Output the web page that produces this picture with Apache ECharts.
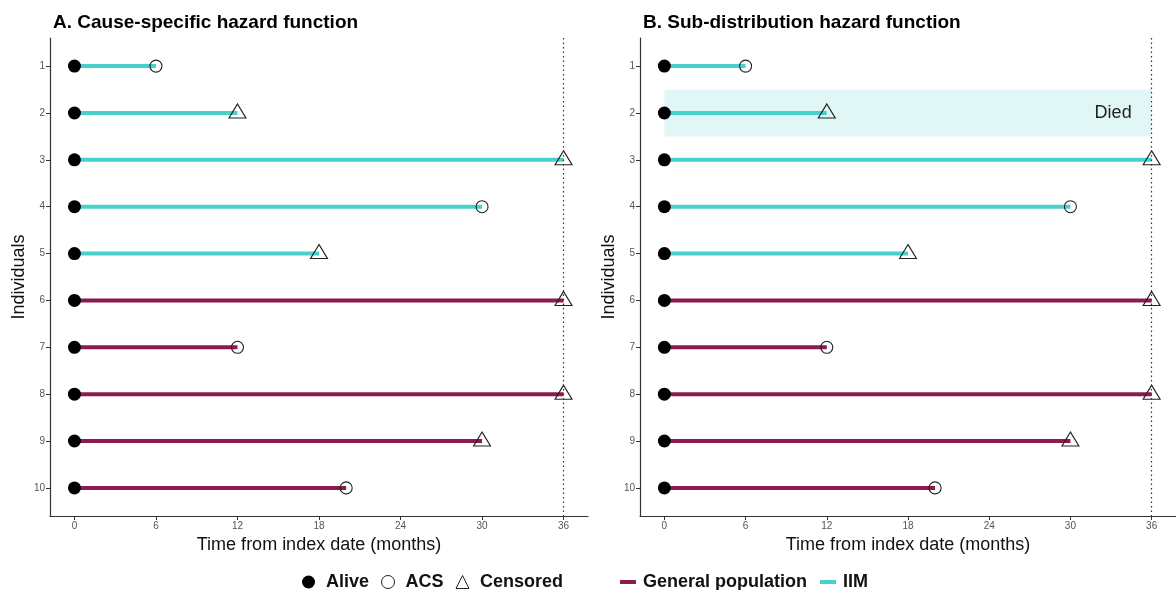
<!DOCTYPE html>
<html>
<head>
<meta charset="utf-8">
<script src="https://cdn.jsdelivr.net/npm/echarts@6/dist/echarts.min.js"></script>
<style>
html,body{margin:0;padding:0;background:#fff;}
#c{width:1176px;height:590px;}
</style>
</head>
<body>
<div id="c"></div>
<script>
// ---- data ----
const individuals = [1, 2, 3, 4, 5, 6, 7, 8, 9, 10];
const endTimes = [6, 12, 36, 30, 18, 36, 12, 36, 30, 20];
const groups = ['IIM', 'IIM', 'IIM', 'IIM', 'IIM', 'General population', 'General population', 'General population', 'General population', 'General population'];
const endStatus = ['ACS', 'Censored', 'Censored', 'ACS', 'Censored', 'Censored', 'ACS', 'Censored', 'Censored', 'ACS'];
const startTime = 0;
const xTicks = [0, 6, 12, 18, 24, 30, 36];
const followUpEnd = 36;
const diedRow = 2;
const diedLabel = 'Died';
const titles = ['A. Cause-specific hazard function', 'B. Sub-distribution hazard function'];
const xName = 'Time from index date (months)';
const yName = 'Individuals';

const COLORS = { 'IIM': '#48D1CC', 'General population': '#8B1A4F' };
const FONT = '"Liberation Sans", Arial, sans-serif';

const chart = echarts.init(document.getElementById('c'), null, { renderer: 'canvas' });

const grids = [
  { left: 50, right: 588, top: 38, height: 478 },
  { left: 640, right: 0, top: 38, height: 478 }
];

function segData(g) {
  const out = [];
  individuals.forEach((id, i) => { if (groups[i] === g) out.push([startTime, endTimes[i], id]); });
  return out;
}
function statusData(s) {
  const out = [];
  individuals.forEach((id, i) => { if (endStatus[i] === s) out.push([endTimes[i], id]); });
  return out;
}

const xAxes = [], yAxes = [], series = [];
grids.forEach((g, k) => {
  xAxes.push({
    gridIndex: k, type: 'value', min: -1.8, max: 37.8,
    name: xName, nameLocation: 'middle', nameGap: 20,
    nameTextStyle: { fontSize: 18, color: '#111', fontFamily: FONT },
    axisLine: { show: true, onZero: false, lineStyle: { color: '#333', width: 1.2 } },
    axisTick: { show: true, length: 4, lineStyle: { color: '#333' }, customValues: xTicks },
    axisLabel: { fontSize: 10, color: '#555', margin: 5, fontFamily: FONT, customValues: xTicks },
    splitLine: { show: false }
  });
  yAxes.push({
    gridIndex: k, type: 'value', min: 0.4, max: 10.6, inverse: true,
    name: yName, nameLocation: 'middle', nameGap: 22,
    nameTextStyle: { fontSize: 18, color: '#111', fontFamily: FONT },
    axisLine: { show: true, onZero: false, lineStyle: { color: '#333', width: 1.2 } },
    axisTick: { show: true, length: 4, lineStyle: { color: '#333' }, customValues: individuals },
    axisLabel: { fontSize: 10, color: '#555', margin: 5, fontFamily: FONT, customValues: individuals },
    splitLine: { show: false }
  });

  ['General population', 'IIM'].forEach((grp, gi) => {
    const s = {
      name: grp, type: 'custom', xAxisIndex: k, yAxisIndex: k,
      itemStyle: { color: COLORS[grp] },
      data: segData(grp),
      encode: { x: [0, 1], y: 2 },
      renderItem: function (params, api) {
        const p0 = api.coord([api.value(0), api.value(2)]);
        const p1 = api.coord([api.value(1), api.value(2)]);
        return { type: 'line', shape: { x1: p0[0], y1: p0[1], x2: p1[0], y2: p1[1] },
          style: { stroke: COLORS[grp], lineWidth: 4, lineCap: 'butt' } };
      },
      z: 2
    };
    if (gi === 0) {
      s.markLine = {
        silent: true, symbol: 'none', label: { show: false },
        lineStyle: { type: [1.5, 3], color: '#333', width: 1.2 },
        data: [{ xAxis: followUpEnd }]
      };
    }
    if (gi === 1 && k === 1) {
      s.markArea = {
        silent: true,
        itemStyle: { color: 'rgba(72,209,204,0.17)' },
        label: { show: true, position: 'insideRight', distance: 20, fontSize: 18, color: '#222', fontFamily: FONT },
        data: [[{ name: diedLabel, xAxis: startTime, yAxis: diedRow - 0.5 }, { xAxis: followUpEnd, yAxis: diedRow + 0.5 }]]
      };
    }
    series.push(s);
  });

  series.push({
    name: 'Alive', type: 'scatter', xAxisIndex: k, yAxisIndex: k,
    symbol: 'circle', symbolSize: 13, itemStyle: { color: '#000', opacity: 1 },
    data: individuals.map(id => [startTime, id]), z: 3
  });
  series.push({
    name: 'ACS', type: 'scatter', xAxisIndex: k, yAxisIndex: k,
    symbol: 'circle', symbolSize: 12,
    itemStyle: { color: 'rgba(0,0,0,0)', borderColor: '#222', borderWidth: 1.1, opacity: 1 },
    data: statusData('ACS'), z: 4
  });
  series.push({
    name: 'Censored', type: 'scatter', xAxisIndex: k, yAxisIndex: k,
    symbol: 'triangle', symbolSize: [17, 14], symbolOffset: [0, -2],
    itemStyle: { color: 'rgba(0,0,0,0)', borderColor: '#222', borderWidth: 1.1, opacity: 1 },
    data: statusData('Censored'), z: 4
  });
});

const option = {
  animation: false,
  backgroundColor: '#fff',
  textStyle: { fontFamily: FONT },
  title: [
    { text: titles[0], left: 48, top: 8, textStyle: { fontSize: 19, fontWeight: 'bold', color: '#000', fontFamily: FONT } },
    { text: titles[1], left: 638, top: 8, textStyle: { fontSize: 19, fontWeight: 'bold', color: '#000', fontFamily: FONT } }
  ],
  grid: grids,
  xAxis: xAxes,
  yAxis: yAxes,
  legend: [
    {
      left: 297, top: 568, itemGap: 12, itemWidth: 13, itemHeight: 13, selectedMode: false,
      textStyle: { fontSize: 18, fontWeight: 'bold', color: '#111', fontFamily: FONT, padding: [0, 0, 0, 6] },
      data: [
        { name: 'Alive', icon: 'circle', itemStyle: { color: '#000' } },
        { name: 'ACS', icon: 'circle', itemStyle: { color: 'rgba(0,0,0,0)', borderColor: '#222', borderWidth: 1 } },
        { name: 'Censored', icon: 'triangle', itemStyle: { color: 'rgba(0,0,0,0)', borderColor: '#222', borderWidth: 1 } }
      ]
    },
    {
      left: 615, top: 568, itemGap: 13, itemWidth: 16, itemHeight: 4, selectedMode: false,
      textStyle: { fontSize: 18, fontWeight: 'bold', color: '#111', fontFamily: FONT, padding: [0, 0, 0, 2] },
      data: [
        { name: 'General population', icon: 'rect', itemStyle: { color: COLORS['General population'] } },
        { name: 'IIM', icon: 'rect', itemStyle: { color: COLORS['IIM'] } }
      ]
    }
  ],
  series: series
};
chart.setOption(option);
</script>
</body>
</html>
